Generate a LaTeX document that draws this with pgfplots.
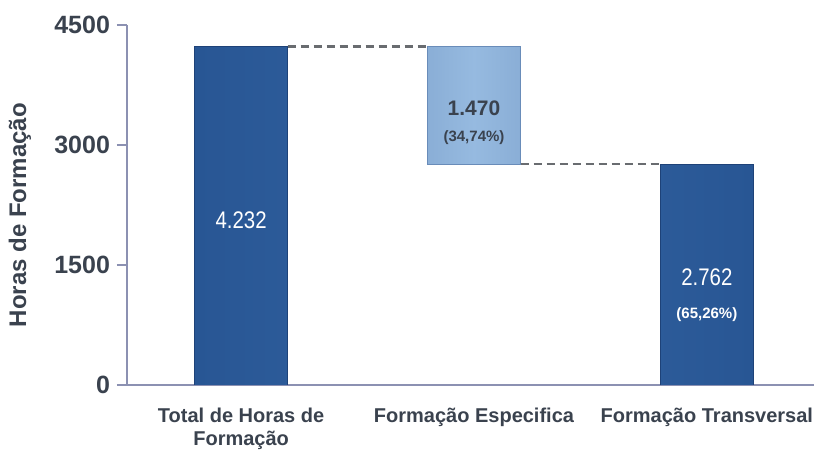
\documentclass[border=0pt]{standalone}
\usepackage{fontspec}
\setmainfont{Liberation Sans}
\newfontfamily\narrowfont{Liberation Sans}[FakeStretch=0.85]
\usepackage{pgfplots}
\pgfplotsset{compat=1.18}
\definecolor{dkblue}{RGB}{40,86,148}
\definecolor{dkedge}{RGB}{30,66,120}
\definecolor{dkhi}{RGB}{52,100,162}
\definecolor{ltblue}{RGB}{138,174,214}
\definecolor{ltedge}{RGB}{105,140,185}
\definecolor{lthi}{RGB}{150,186,224}
\definecolor{txtgray}{RGB}{58,66,78}
\definecolor{axgray}{RGB}{140,145,178}
\definecolor{dashgray}{RGB}{105,108,112}
\begin{document}
\begin{tikzpicture}
\begin{axis}[
  scale only axis, width=343.5pt, height=180pt,
  xmin=-0.49, xmax=2.46, ymin=0, ymax=4500,
  ybar stacked, bar width=46.5pt,
  axis x line*=bottom, axis y line*=left,
  axis line style={axgray, line width=0.6pt},
  ytick={0,1500,3000,4500},
  xtick={0,1,2},
  xticklabels={{Total de Horas de\\Formação},{Formação Especifica},{Formação Transversal}},
  x tick style={draw=none},
  y tick style={axgray, line width=0.6pt},
  tick align=outside, major tick length=5pt,
  /pgf/number format/assume math mode=true,
  scaled y ticks=false,
  y tick label style={/pgf/number format/1000 sep={}, font=\bfseries\fontsize{12.5}{12.5}\selectfont, text=txtgray},
  x tick label style={font=\bfseries\fontsize{10}{11.5}\selectfont, text=txtgray, align=center, yshift=-3pt},
  ylabel={Horas de Formação},
  ylabel style={font=\bfseries\fontsize{12}{12}\selectfont, text=txtgray, at={(axis description cs:-0.156,0.472)}, anchor=center},
]
\addplot[draw=none, fill=none] coordinates {(0,0) (1,2762) (2,0)};
\addplot[left color=dkblue, right color=dkblue, middle color=dkhi, draw=dkedge, line width=0.4pt] coordinates {(0,4232) (1,0) (2,2762)};
\addplot[left color=ltblue, right color=ltblue, middle color=lthi, draw=ltedge, line width=0.4pt] coordinates {(0,0) (1,1470) (2,0)};
\end{axis}
\begin{axis}[
  scale only axis, width=343.5pt, height=180pt,
  xmin=-0.49, xmax=2.46, ymin=0, ymax=4500,
  hide axis, clip=false,
]
\addplot[dashgray, line width=1.1pt, dash pattern=on 4pt off 2.5pt] coordinates {(0.2,4232) (0.8,4232)};
\addplot[dashgray, line width=1.1pt, dash pattern=on 4pt off 2.5pt] coordinates {(1.2,2762) (1.8,2762)};
\node[text=white, font=\narrowfont\fontsize{12}{12}\selectfont] at (axis cs:0,2062) {4.232};
\node[text=txtgray, font=\bfseries\fontsize{10.5}{10.5}\selectfont] at (axis cs:1,3462) {1.470};
\node[text=txtgray, font=\bfseries\fontsize{7.5}{7.5}\selectfont] at (axis cs:1,3087) {(34,74\%)};
\node[text=white, font=\narrowfont\fontsize{12}{12}\selectfont] at (axis cs:2,1350) {2.762};
\node[text=white, font=\bfseries\fontsize{7.5}{7.5}\selectfont] at (axis cs:2,875) {(65,26\%)};
\end{axis}
\pgfresetboundingbox
\path (-63.5pt,-34.5pt) rectangle (343.5pt,192.5pt);
\end{tikzpicture}
\end{document}
